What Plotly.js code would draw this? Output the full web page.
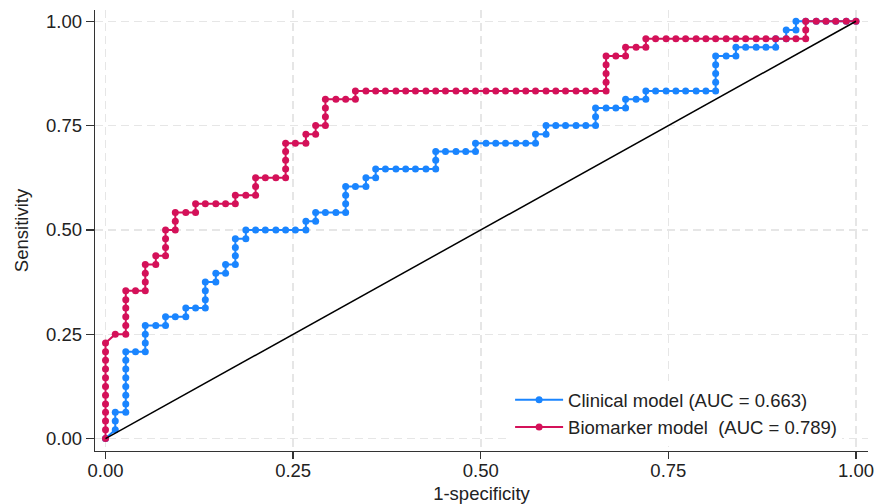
<!DOCTYPE html>
<html>
<head>
<meta charset="utf-8">
<script src="https://cdn.plot.ly/plotly-3.0.1.min.js"></script>
<style>html,body{margin:0;padding:0;background:#fff;}#chart{width:875px;height:504px;}</style>
</head>
<body>
<div id="chart"></div>
<script>
// Clinical model ROC points (1-specificity, sensitivity)
var clinicalFPR = [
  0, .013, .013, .013, .027, .027, .027, .027, .027, .027, .027, .027,
  .04, .053, .053, .053, .053, .067, .08, .08, .093, .107, .107, .12, .133,
  .133, .133, .133, .147, .147, .16, .16, .173, .173, .173, .173, .187, .187,
  .2, .213, .227, .24, .253, .267, .267, .28, .28, .293, .307, .32, .32, .32, .32,
  .333, .347, .347, .36, .36, .373, .387, .4, .413, .427, .44, .44, .44,
  .453, .467, .48, .493, .493, .507, .52, .533, .547, .56, .573, .573, .587, .587,
  .6, .613, .627, .64, .653, .653, .653, .667, .68, .693, .693, .707, .72, .72,
  .733, .747, .76, .773, .787, .8, .813, .813, .813, .813, .813, .827, .84, .84,
  .853, .867, .88, .893, .893, .907, .907, .92, .92, .933, .947, .96, .973, .987, 1
];
var clinicalTPR = [
  0, .021, .042, .063, .063, .083, .104, .125, .146, .167, .188, .208,
  .208, .208, .229, .25, .271, .271, .271, .292, .292, .292, .313, .313, .313,
  .333, .354, .375, .375, .396, .396, .417, .417, .438, .458, .479, .479, .5,
  .5, .5, .5, .5, .5, .5, .521, .521, .542, .542, .542, .542, .563, .583, .604,
  .604, .604, .625, .625, .646, .646, .646, .646, .646, .646, .646, .667, .688,
  .688, .688, .688, .688, .708, .708, .708, .708, .708, .708, .708, .729, .729, .75,
  .75, .75, .75, .75, .75, .771, .792, .792, .792, .792, .813, .813, .813, .833,
  .833, .833, .833, .833, .833, .833, .833, .854, .875, .896, .917, .917, .917, .938,
  .938, .938, .938, .938, .958, .958, .979, .979, 1, 1, 1, 1, 1, 1, 1
];
// Biomarker model ROC points
var biomarkerFPR = [
  0, 0, 0, 0, 0, 0, 0, 0, 0, 0, 0, 0,
  .013, .027, .027, .027, .027, .027, .027, .04, .053, .053, .053, .053,
  .067, .067, .08, .08, .08, .08, .093, .093, .093, .107, .12, .12,
  .133, .147, .16, .173, .173, .187, .2, .2, .2, .213, .227, .24, .24, .24, .24, .24,
  .253, .267, .267, .28, .28, .293, .293, .293, .293, .307, .32, .333, .333,
  .347, .36, .373, .387, .4, .413, .427, .44, .453, .467, .48, .493, .507, .52, .533,
  .547, .56, .573, .587, .6, .613, .627, .64, .653, .667,
  .667, .667, .667, .667, .68, .693, .693, .707, .72, .72,
  .733, .747, .76, .773, .787, .8, .813, .827, .84, .853, .867, .88, .893, .907, .92, .933,
  .933, .933, .947, .96, .973, .987, 1
];
var biomarkerTPR = [
  0, .021, .042, .063, .083, .104, .125, .146, .167, .188, .208, .229,
  .25, .25, .271, .292, .313, .333, .354, .354, .354, .375, .396, .417,
  .417, .438, .438, .458, .479, .5, .5, .521, .542, .542, .542, .563,
  .563, .563, .563, .563, .583, .583, .583, .604, .625, .625, .625, .625, .646, .667, .688, .708,
  .708, .708, .729, .729, .75, .75, .771, .792, .813, .813, .813, .813, .833,
  .833, .833, .833, .833, .833, .833, .833, .833, .833, .833, .833, .833, .833, .833, .833,
  .833, .833, .833, .833, .833, .833, .833, .833, .833, .833,
  .854, .875, .896, .917, .917, .917, .938, .938, .938, .958,
  .958, .958, .958, .958, .958, .958, .958, .958, .958, .958, .958, .958, .958, .958, .958, .958,
  .979, 1, 1, 1, 1, 1, 1
];
var referenceLine = [0, 1];
var seriesNames = ['Clinical model (AUC = 0.663)', 'Biomarker model  (AUC = 0.789)'];
var tickVals = [0, 0.25, 0.5, 0.75, 1];
var tickText = ['0.00', '0.25', '0.50', '0.75', '1.00'];

var FONT = 'Liberation Sans, Arial, sans-serif';
var blue = '#1a85ff', red = '#d41159';

var traces = [
  {x: clinicalFPR, y: clinicalTPR, type: 'scatter', mode: 'lines+markers', name: seriesNames[0],
   line: {color: blue, width: 2}, marker: {color: blue, size: 7}},
  {x: biomarkerFPR, y: biomarkerTPR, type: 'scatter', mode: 'lines+markers', name: seriesNames[1],
   line: {color: red, width: 2}, marker: {color: red, size: 7}},
  {x: referenceLine, y: referenceLine, type: 'scatter', mode: 'lines', showlegend: false,
   line: {color: '#000', width: 1.5}, hoverinfo: 'skip'}
];

var axisCommon = {
  tickvals: tickVals, ticktext: tickText,
  showgrid: true, gridcolor: '#e6e6e6', gridwidth: 1.5, griddash: '8px,5px',
  zeroline: false, showline: true, linecolor: '#333', linewidth: 1.3,
  ticks: 'outside', ticklen: 8, tickwidth: 1.3, tickcolor: '#333',
  tickfont: {family: FONT, size: 18.5, color: '#222'}
};

var layout = {
  width: 875, height: 504,
  margin: {l: 95, r: 7, t: 10, b: 53},
  paper_bgcolor: '#fff', plot_bgcolor: '#fff',
  font: {family: FONT, size: 18.5, color: '#222'},
  showlegend: true,
  legend: {x: 0.537, y: 0.158, xanchor: 'left', yanchor: 'top', bgcolor: '#fff',
           borderwidth: 0, font: {family: FONT, size: 18.5, color: '#222'}, itemwidth: 48},
  xaxis: Object.assign({}, axisCommon, {range: [-0.014, 1.016], ticklen: 7, ticklabelstandoff: -5,
    title: {text: '1-specificity', font: {family: FONT, size: 18.5, color: '#222'}, standoff: 14}}),
  yaxis: Object.assign({}, axisCommon, {range: [-0.0297, 1.027],
    title: {text: 'Sensitivity', font: {family: FONT, size: 18.5, color: '#222'}, standoff: 12}})
};

Plotly.newPlot('chart', traces, layout, {displayModeBar: false, staticPlot: true});
</script>
</body>
</html>
